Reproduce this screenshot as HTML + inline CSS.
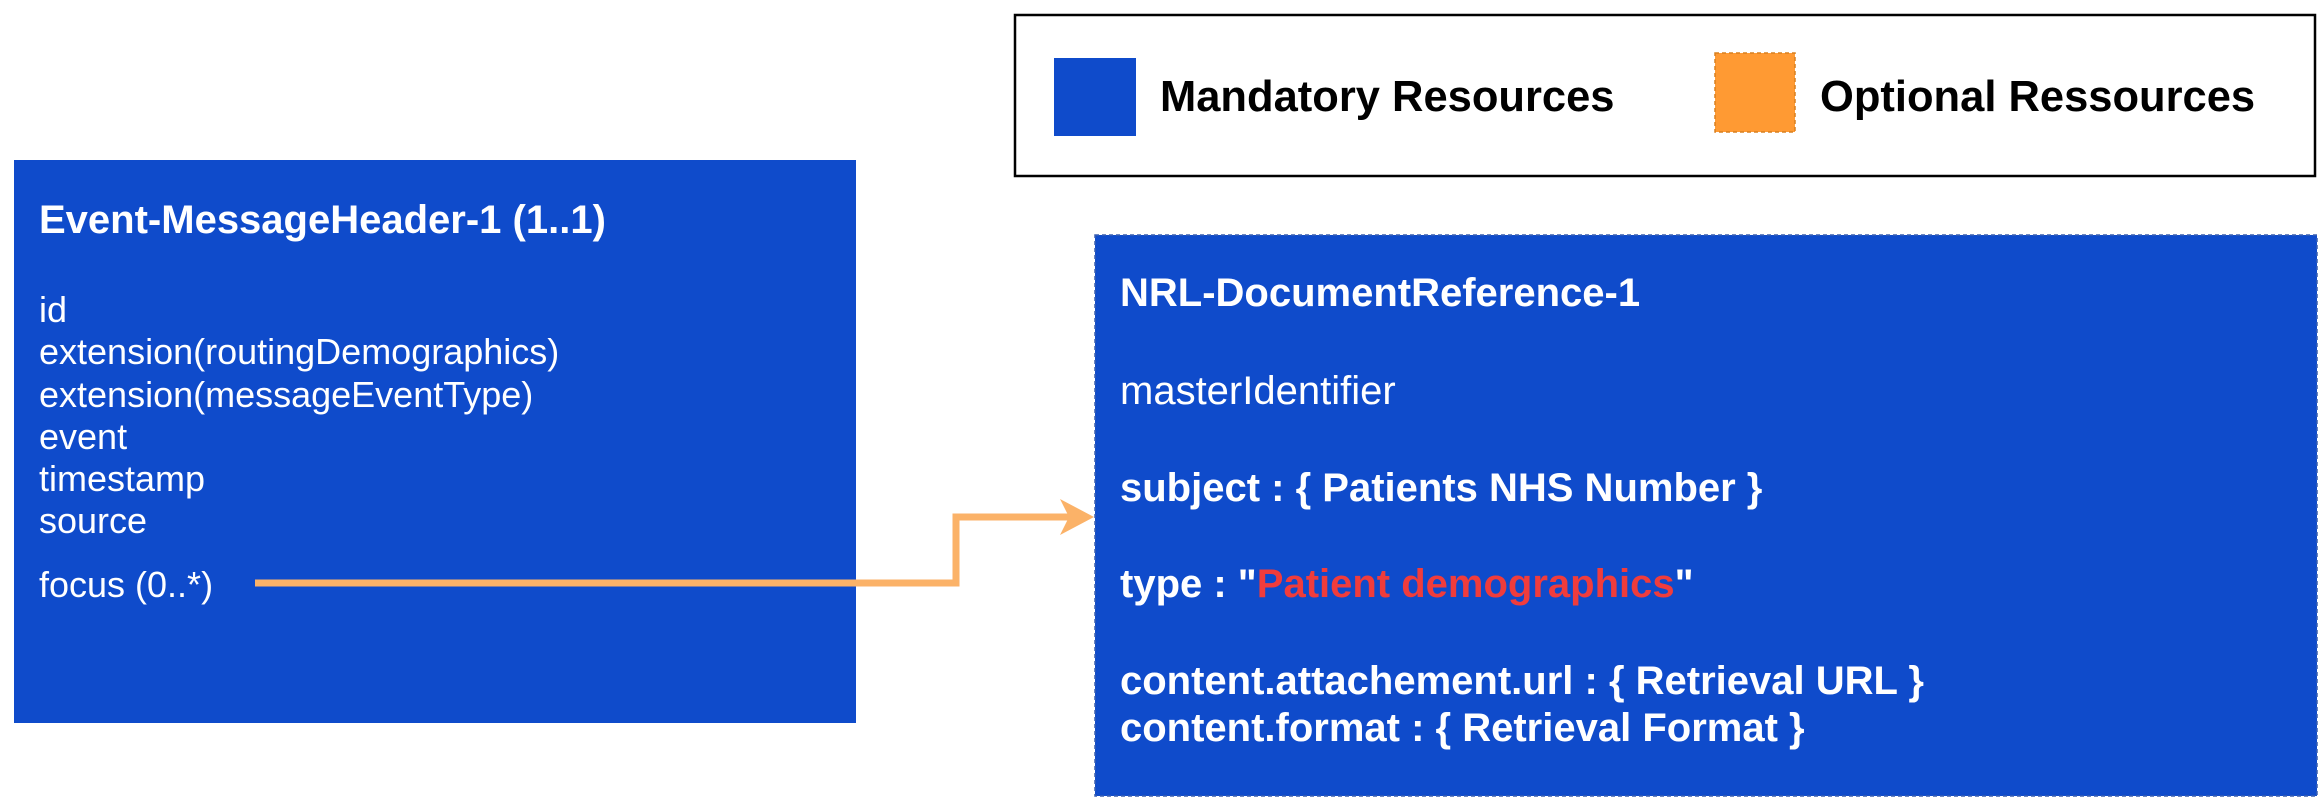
<!DOCTYPE html>
<html><head><meta charset="utf-8"><style>
html,body{margin:0;padding:0;background:#fff;width:2322px;height:802px;overflow:hidden}
svg{display:block}
text{font-family:"Liberation Sans",Arial,sans-serif}
</style></head><body>
<svg width="2322" height="802" viewBox="0 0 2322 802" xmlns="http://www.w3.org/2000/svg">
<!-- legend -->
<rect x="1015" y="15" width="1300" height="161" fill="#fff" stroke="#000" stroke-width="2.5"/>
<rect x="1054" y="58" width="82" height="78" fill="#0f4bcb"/>
<text x="1160" y="111" font-size="43.5" font-weight="bold" fill="#000">Mandatory Resources</text>
<rect x="1715" y="53" width="80" height="79" fill="#ff9a33" stroke="#d98020" stroke-width="1.5" stroke-dasharray="4,3"/>
<text x="1820" y="111" font-size="43.5" font-weight="bold" fill="#000">Optional Ressources</text>

<!-- left box -->
<rect x="14" y="160" width="842" height="563" fill="#0f4bcb"/>
<g fill="#fff">
<text x="39" y="233" font-size="40" font-weight="bold">Event-MessageHeader-1 (1..1)</text>
<g font-size="36">
<text x="39" y="322">id</text>
<text x="39" y="364">extension(routingDemographics)</text>
<text x="39" y="407">extension(messageEventType)</text>
<text x="39" y="449">event</text>
<text x="39" y="491">timestamp</text>
<text x="39" y="533">source</text>
<text x="39" y="597">focus (0..*)</text>
</g>
</g>

<!-- right box -->
<rect x="1095" y="235" width="1222" height="561" fill="#0f4bcb" stroke="#3a5fb0" stroke-width="1.5" stroke-dasharray="4,3"/>
<g fill="#fff" font-weight="bold" font-size="40">
<text x="1120" y="306">NRL-DocumentReference-1</text>
<text x="1120" y="404" font-weight="normal">masterIdentifier</text>
<text x="1120" y="501">subject : { Patients NHS Number }</text>
<text x="1120" y="597">type : "<tspan fill="#f03c3c">Patient demographics</tspan>"</text>
<text x="1120" y="694">content.attachement.url : { Retrieval URL }</text>
<text x="1120" y="741">content.format : { Retrieval Format }</text>
</g>

<!-- connector -->
<polyline points="255,583 956,583 956,517 1072,517" fill="none" stroke="#fbb268" stroke-width="7"/>
<polygon points="1094,517 1060,499 1069,517 1060,535" fill="#fbb268"/>
</svg>
</body></html>
